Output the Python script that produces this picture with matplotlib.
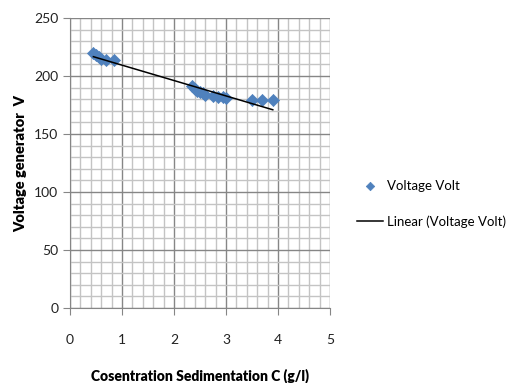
import matplotlib
matplotlib.use("Agg")
import matplotlib.pyplot as plt
import numpy as np
from matplotlib.ticker import MultipleLocator

plt.rcParams["font.family"] = ["Lato", "DejaVu Sans"]

concentration = [0.45, 0.5, 0.55, 0.6, 0.7, 0.85,
                 2.35, 2.4, 2.45, 2.5, 2.55, 2.6, 2.75, 2.85, 2.95, 3.0,
                 3.5, 3.7, 3.9]
voltage = [220, 218, 216, 215, 214, 213.5,
           191, 189, 187, 186, 185, 184, 183, 182, 182, 181,
           179.5, 179, 179]

x = np.array(concentration)
y = np.array(voltage)
slope, intercept = np.polyfit(x, y, 1)
x_fit = np.array([x.min(), x.max()])
y_fit = slope * x_fit + intercept

fig = plt.figure(figsize=(5.14, 3.83), dpi=100)
ax = fig.add_axes([70 / 514, 1 - 308 / 383, 260 / 514, 290 / 383])

ax.set_xlim(0, 5)
ax.set_ylim(0, 250)
ax.xaxis.set_major_locator(MultipleLocator(1))
ax.xaxis.set_minor_locator(MultipleLocator(0.2))
ax.yaxis.set_major_locator(MultipleLocator(50))
ax.yaxis.set_minor_locator(MultipleLocator(10))
ax.grid(which="minor", color="#c4c4c4", linewidth=1.0)
ax.grid(which="major", color="#868686", linewidth=1.0)
ax.set_axisbelow(True)
for side in ("top", "right"):
    ax.spines[side].set_visible(False)
for side in ("left", "bottom"):
    ax.spines[side].set_color("#868686")
ax.tick_params(which="major", length=5, color="#868686", labelsize=10, labelcolor="#222222")
ax.tick_params(which="minor", length=0)
ax.tick_params(axis="x", pad=14)

ax.scatter(x, y, marker="D", s=38, color="#4f81bd", edgecolors="#4f81bd",
           linewidths=0.5, zorder=3, label="Voltage Volt")
ax.plot(x_fit, y_fit, color="black", linewidth=1.1, zorder=4,
        label="Linear (Voltage Volt)")

ax.set_xlabel("Cosentration Sedimentation C (g/l)", fontsize=10, fontweight="heavy",
              labelpad=16)
ax.set_ylabel("Voltage generator  V", fontsize=10.5, fontweight="heavy", labelpad=5)

fig.legend(loc="upper left", bbox_to_anchor=(354 / 514, 1 - 177 / 383), frameon=False,
           fontsize=9.5, handlelength=2.0, handletextpad=0.3, labelspacing=1.8,
           borderpad=0.2, borderaxespad=0, markerscale=0.7)

fig.savefig("out.png", dpi=100)
